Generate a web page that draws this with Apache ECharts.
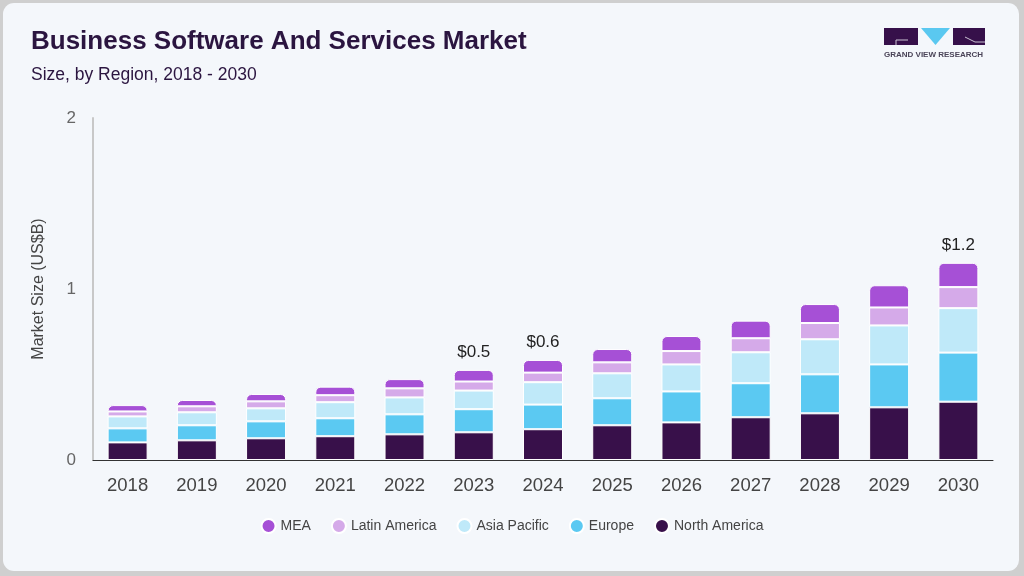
<!DOCTYPE html>
<html>
<head>
<meta charset="utf-8">
<script src="https://cdn.jsdelivr.net/npm/echarts@6/dist/echarts.min.js"></script>
<style>
  html,body{margin:0;padding:0;width:1024px;height:576px;overflow:hidden;background:#cfcfcf;}
  #card{position:absolute;left:3px;top:3px;width:1016px;height:568px;border-radius:11px;background:#f4f7fb;}
  #chart{position:absolute;left:0;top:0;width:1024px;height:576px;}
</style>
</head>
<body>
<div id="card"></div>
<div id="chart"></div>
<script>
// 数据
var years = ['2018','2019','2020','2021','2022','2023','2024','2025','2026','2027','2028','2029','2030'];
var northAmerica = [0.103,0.115,0.127,0.139,0.150,0.162,0.180,0.203,0.220,0.250,0.273,0.308,0.341];
var europe       = [0.082,0.088,0.099,0.105,0.117,0.135,0.144,0.158,0.181,0.199,0.228,0.251,0.287];
var asiaPacific  = [0.070,0.076,0.076,0.094,0.099,0.109,0.131,0.146,0.158,0.181,0.205,0.228,0.260];
var latinAmerica = [0.029,0.035,0.041,0.041,0.053,0.053,0.056,0.064,0.078,0.082,0.095,0.105,0.123];
var mea          = [0.037,0.037,0.043,0.050,0.054,0.068,0.074,0.078,0.088,0.103,0.111,0.130,0.142];
var labeledYears = ['2023','2024','2030'];
var yTicks = [0, 1, 2];

var fontFam = '"Liberation Sans", Arial, Helvetica, sans-serif';

function total(i){
    return northAmerica[i]+europe[i]+asiaPacific[i]+latinAmerica[i]+mea[i];
}

function seg(name, data, color, top){
    var s = {
        name: name,
        type: 'bar',
        stack: 'total',
        data: data,
        barWidth: 40,
        itemStyle: {color: color, borderColor: '#ffffff', borderWidth: 1},
        emphasis: {disabled: true}
    };
    if(top){
        s.itemStyle.borderRadius = [5,5,0,0];
        s.label = {
            show: true,
            position: 'top',
            distance: 9,
            fontSize: 17,
            color: '#222',
            fontFamily: fontFam,
            formatter: function(p){
                if(labeledYears.indexOf(p.name) < 0) return '';
                return '$' + total(p.dataIndex).toFixed(1);
            }
        };
    }
    return s;
}

var chart = echarts.init(document.getElementById('chart'));
var option = {
    backgroundColor: 'transparent',
    animation: false,
    textStyle: {fontFamily: fontFam},
    title: [{
        text: 'Business Software And Services Market',
        left: 26, top: 24,
        textStyle: {fontSize: 26, fontWeight: 'bold', color: '#2b1540', fontFamily: fontFam}
    },{
        text: 'Size, by Region, 2018 - 2030',
        left: 26, top: 61,
        textStyle: {fontSize: 17.5, fontWeight: 'normal', color: '#2b1540', fontFamily: fontFam}
    }],
    legend: {
        bottom: 37,
        left: 'center',
        icon: 'circle',
        itemWidth: 14,
        itemHeight: 14,
        itemGap: 20,
        textStyle: {fontSize: 14, color: '#444', fontFamily: fontFam},
        data: ['MEA','Latin America','Asia Pacific','Europe','North America']
    },
    grid: {left: 93, right: 31, top: 118, bottom: 116},
    xAxis: {
        type: 'category',
        data: years,
        axisLine: {lineStyle: {color: '#333', width: 1}},
        axisTick: {show: false},
        axisLabel: {fontSize: 18.5, color: '#444', margin: 16, fontFamily: fontFam}
    },
    yAxis: {
        type: 'value',
        min: yTicks[0],
        max: yTicks[yTicks.length-1],
        interval: 1,
        name: 'Market Size (US$B)',
        nameLocation: 'middle',
        nameGap: 46,
        nameTextStyle: {fontSize: 16, color: '#444', fontFamily: fontFam},
        axisLine: {show: true, lineStyle: {color: '#c8c8c8', width: 2}},
        axisTick: {show: false},
        splitLine: {show: false},
        axisLabel: {fontSize: 17, color: '#666', margin: 17, fontFamily: fontFam}
    },
    graphic: [
        {type: 'rect', shape: {x: 884, y: 28, width: 34, height: 17}, style: {fill: '#36104a'}},
        {type: 'polyline', shape: {points: [[908,40],[896,40],[896,45]]}, style: {stroke: '#c9c2d2', lineWidth: 1, fill: null}},
        {type: 'polygon', shape: {points: [[921,28],[950,28],[935.5,45]]}, style: {fill: '#5ac8f0'}},
        {type: 'rect', shape: {x: 953, y: 28, width: 32, height: 17}, style: {fill: '#36104a'}},
        {type: 'polyline', shape: {points: [[965,37],[975,42],[985,42]]}, style: {stroke: '#c9c2d2', lineWidth: 1, fill: null}},
        {type: 'text', left: 884, top: 51, style: {text: 'GRAND VIEW RESEARCH', fontSize: 8, fontWeight: 'bold', fill: '#4a4458', fontFamily: fontFam}}
    ],
    series: [
        seg('North America', northAmerica, '#38104a', false),
        seg('Europe', europe, '#5bc9f2', false),
        seg('Asia Pacific', asiaPacific, '#bfe9f9', false),
        seg('Latin America', latinAmerica, '#d5aae9', false),
        seg('MEA', mea, '#a650d6', true)
    ]
};
chart.setOption(option);
</script>
</body>
</html>
